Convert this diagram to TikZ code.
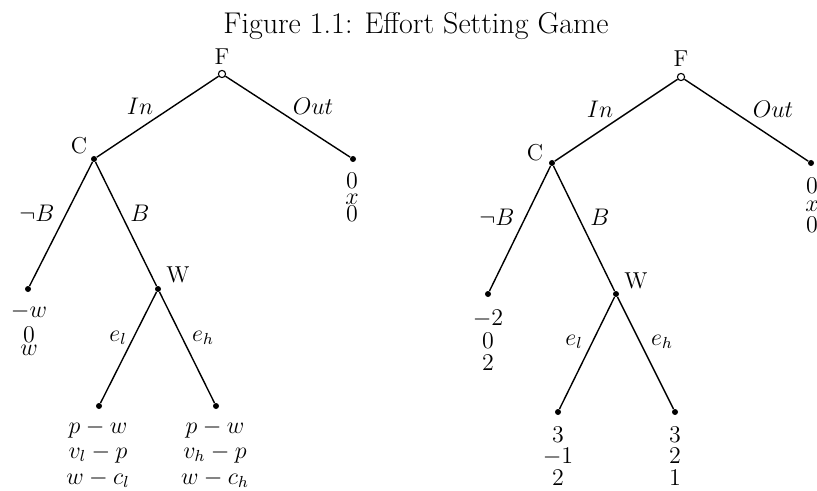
\documentclass[tikz,border=0pt]{standalone}
\begin{document}
\begin{tikzpicture}[x=0.5pt,y=-0.5pt]
\tikzset{
  decision/.style={circle,fill=black,inner sep=0pt,minimum size=3pt},
  chance/.style={circle,draw=black,fill=white,line width=0.55pt,inner sep=0pt,minimum size=3.6pt},
  branch/.style={line width=0.7pt},
  lbl/.style={font=\fontsize{11.5}{13}\selectfont,inner sep=0pt},
  pay/.style={lbl,anchor=base},
  ttl/.style={font=\fontsize{15}{18}\selectfont,inner sep=0pt,anchor=base}
}
% three stacked payoffs under a terminal node
\newcommand\payoffs[8]{%
  \node[pay] (#1-1) at (#2,#3) {#6};
  \node[pay] (#1-2) at (#2,#4) {#7};
  \node[pay] (#1-3) at (#2,#5) {#8};}

\useasboundingbox (0,0) rectangle (817,491);

\node[ttl] (title) at (416,34) {Figure 1.1: Effort Setting Game};

% ---------------- general game ----------------
\node[chance]   (F1)  at (222,74)  {};
\node[decision] (C1)  at (94,159)  {};
\node[decision] (O1)  at (353,159) {};
\node[decision] (N1)  at (28,289)  {};
\node[decision] (W1)  at (158,289) {};
\node[decision] (L1)  at (99,406)  {};
\node[decision] (H1)  at (216,406) {};

\draw[branch] (F1) -- (C1);
\draw[branch] (F1) -- (O1);
\draw[branch] (C1) -- (N1);
\draw[branch] (C1) -- (W1);
\draw[branch] (W1) -- (L1);
\draw[branch] (W1) -- (H1);

\node[pay] (F1lab) at (222,65) {F};
\node[lbl] (C1lab) at (79,146)  {C};
\node[lbl] (W1lab) at (178,275) {W};
\node[lbl] (in1)   at (140,106) {$In$};
\node[lbl] (out1)  at (313,106) {$Out$};
\node[lbl] (nb1)   at (37,213)  {$\neg B$};
\node[lbl] (b1)    at (140,213) {$B$};
\node[lbl] (el1)   at (118,338) {$e_l$};
\node[lbl] (eh1)   at (203,338) {$e_h$};

\payoffs{po1}{352}{189}{205}{222}{$0$}{$x$}{$0$}
\payoffs{pn1}{29}{317}{342}{355}{$-w$}{$0$}{$w$}
\payoffs{pl1}{98}{433}{458}{484}{$p-w$}{$v_l-p$}{$w-c_l$}
\payoffs{ph1}{215}{433}{458}{484}{$p-w$}{$v_h-p$}{$w-c_h$}

% ---------------- numerical game ----------------
\node[chance]   (F2)  at (681,77)  {};
\node[decision] (C2)  at (552,163) {};
\node[decision] (O2)  at (811,163) {};
\node[decision] (N2)  at (488,294) {};
\node[decision] (W2)  at (616,294) {};
\node[decision] (L2)  at (558,412) {};
\node[decision] (H2)  at (675,412) {};

\draw[branch] (F2) -- (C2);
\draw[branch] (F2) -- (O2);
\draw[branch] (C2) -- (N2);
\draw[branch] (C2) -- (W2);
\draw[branch] (W2) -- (L2);
\draw[branch] (W2) -- (H2);

\node[pay] (F2lab) at (681,67) {F};
\node[lbl] (C2lab) at (535,153) {C};
\node[lbl] (W2lab) at (636,281) {W};
\node[lbl] (in2)   at (600,109) {$In$};
\node[lbl] (out2)  at (773,109) {$Out$};
\node[lbl] (nb2)   at (497,217) {$\neg B$};
\node[lbl] (b2)    at (600,217) {$B$};
\node[lbl] (el2)   at (574,342) {$e_l$};
\node[lbl] (eh2)   at (662,342) {$e_h$};

\payoffs{po2}{812}{194}{212}{233}{$0$}{$x$}{$0$}
\payoffs{pn2}{488}{325}{348}{370}{$-2$}{$0$}{$2$}
\payoffs{pl2}{558}{442}{463}{485}{$3$}{$-1$}{$2$}
\payoffs{ph2}{675}{442}{463}{485}{$3$}{$2$}{$1$}
\end{tikzpicture}
\end{document}
